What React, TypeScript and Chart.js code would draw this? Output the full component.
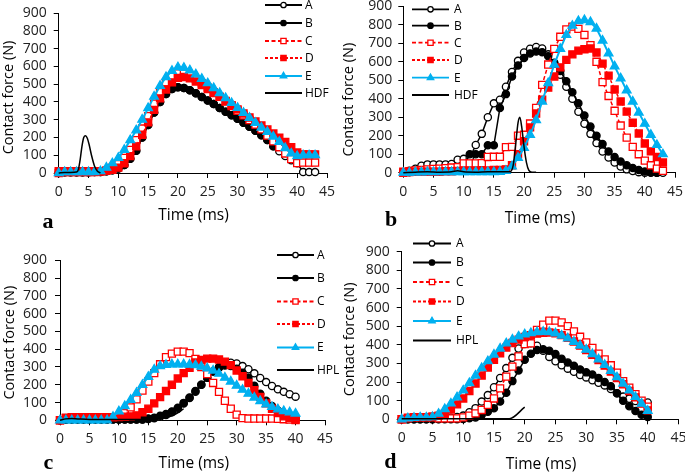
import React, { useEffect, useRef } from 'react';
import { Chart, registerables } from 'chart.js';
Chart.register(...registerables);

const BLACK = '#000000';
const RED = '#FF0000';
const CYAN = '#00B0F0';
const AXIS = '#000000';
const TICK_TEXT = '#222222';

const xTickValues = [0, 5, 10, 15, 20, 25, 30, 35, 40, 45];
const yTickValues = [0, 100, 200, 300, 400, 500, 600, 700, 800, 900];

const timeMs = [0, 1, 2, 3, 4, 5, 6, 7, 8, 9, 10, 11, 12, 13, 14, 15, 16, 17, 18, 19, 20, 21, 22, 23, 24, 25, 26, 27, 28, 29, 30, 31, 32, 33, 34, 35, 36, 37, 38, 39, 40, 41, 42, 43];

// Panel a
const aA = [0, 10, 8, 5, 5, 5, 5, 5, 10, 15, 25, 45, 80, 125, 200, 270, 340, 400, 445, 472, 482, 478, 465, 448, 428, 408, 388, 366, 345, 325, 305, 282, 260, 238, 212, 185, 150, 122, 95, 72, 55, 5, 5, 5];
const aB = [0, 3, 3, 3, 3, 3, 5, 5, 10, 15, 25, 45, 80, 125, 200, 270, 340, 400, 445, 472, 482, 478, 465, 448, 428, 408, 388, 366, 345, 325, 305, 282, 260, 238, 212, 185, 150];
const aC = [0, 5, 5, 5, 5, 5, 5, 8, 15, 30, 50, 85, 130, 185, 250, 320, 390, 455, 510, 545, 560, 560, 548, 528, 505, 480, 455, 428, 402, 376, 350, 324, 298, 272, 246, 210, 178, 145, 110, 78, 56, 58, 58, 58];
const aD = [10, 10, 10, 10, 10, 10, 10, 10, 12, 18, 30, 55, 95, 150, 215, 285, 355, 420, 470, 510, 535, 540, 532, 515, 495, 472, 450, 428, 405, 382, 358, 335, 312, 290, 268, 245, 222, 198, 175, 145, 115, 105, 105, 105];
const aE = [0, 5, 5, 5, 5, 5, 5, 10, 30, 55, 85, 130, 185, 240, 300, 365, 430, 490, 540, 575, 595, 592, 578, 555, 530, 505, 478, 450, 422, 394, 366, 338, 310, 282, 256, 232, 205, 175, 140, 110, 95, 100, 100, 100];
const aHT = [0, 1, 2, 3, 3.3, 3.6, 3.9, 4.2, 4.5, 4.8, 5.1, 5.5, 6.0, 6.5, 7.0];
const aHV = [0, 3, 3, 5, 20, 75, 150, 200, 210, 195, 160, 100, 40, 10, 0];

// Panel b
const bA = [0, 10, 22, 38, 45, 45, 45, 45, 47, 70, 75, 80, 150, 210, 300, 375, 395, 465, 545, 605, 650, 670, 680, 672, 640, 590, 530, 465, 400, 330, 265, 210, 160, 115, 82, 55, 33, 18, 9, 3, 0, 0, 0, 0];
const bB = [0, 2, 5, 8, 10, 12, 12, 15, 18, 25, 30, 100, 100, 100, 148, 148, 350, 425, 520, 580, 620, 645, 655, 652, 630, 595, 550, 495, 435, 375, 310, 250, 200, 155, 115, 85, 60, 40, 25, 14, 6, 2, 0];
const bC = [5, 8, 12, 15, 18, 20, 22, 25, 28, 30, 50, 50, 50, 52, 85, 86, 86, 138, 140, 200, 205, 266, 350, 475, 585, 670, 735, 775, 790, 778, 745, 690, 600, 490, 415, 335, 255, 190, 140, 100, 65, 40, 22, 10];
const bD = [0, 3, 5, 5, 5, 5, 5, 8, 8, 10, 10, 10, 10, 12, 12, 15, 15, 18, 40, 100, 170, 245, 320, 395, 460, 520, 570, 610, 640, 660, 668, 672, 650, 590, 525, 450, 385, 330, 270, 212, 158, 115, 85, 55];
const bE = [0, 0, 2, 2, 3, 3, 3, 3, 3, 3, 3, 3, 3, 3, 3, 3, 5, 10, 35, 80, 135, 205, 285, 385, 485, 585, 670, 745, 795, 820, 825, 815, 780, 715, 645, 575, 510, 445, 385, 325, 265, 205, 150, 100];
const bHT = [0, 2, 4, 6, 8, 9, 10, 12, 14, 16, 17.6, 18.2, 18.6, 19.0, 19.3, 19.6, 20.0, 20.4, 20.8, 21.3, 22];
const bHV = [0, 3, 5, 3, 5, 10, 5, 3, 5, 5, 5, 40, 150, 270, 300, 250, 140, 55, 12, 2, 3];

// Panel c
const cA = [0, 3, 5, 5, 5, 5, 5, 5, 5, 5, 5, 5, 5, 5, 5, 8, 12, 20, 30, 45, 65, 95, 125, 160, 200, 240, 275, 300, 318, 324, 320, 305, 287, 264, 238, 215, 193, 174, 160, 147, 133];
const cB = [0, 3, 5, 5, 5, 5, 5, 5, 5, 5, 5, 5, 5, 5, 5, 10, 15, 25, 35, 50, 70, 98, 128, 165, 200, 240, 275, 295, 308, 305, 290, 268, 240, 195, 150, 110, 80, 55, 35, 20, 10];
const cC = [0, 12, 15, 15, 15, 15, 15, 15, 15, 18, 22, 40, 73, 118, 167, 218, 265, 315, 355, 375, 386, 386, 378, 345, 300, 260, 210, 160, 110, 65, 32, 12, 10, 10, 10, 10, 10, 8, 6, 4, 2];
const cD = [0, 15, 18, 18, 18, 18, 18, 18, 18, 18, 18, 20, 22, 28, 45, 65, 95, 130, 165, 200, 235, 265, 295, 325, 340, 347, 347, 342, 330, 310, 280, 248, 210, 170, 132, 95, 65, 40, 22, 12, 5];
const cE = [0, 0, 0, 0, 0, 0, 0, 0, 0, 20, 50, 80, 115, 155, 200, 245, 285, 305, 312, 315, 315, 315, 313, 310, 302, 292, 280, 262, 240, 218, 195, 172, 150, 128, 108, 90, 75, 62, 52, 45, 38];
const cHT = [0, 1, 2, 3, 5, 8, 10, 12, 14, 16, 17, 18, 19, 20, 21];
const cHV = [0, 8, 10, 8, 5, 5, 5, 5, 5, 8, 10, 15, 25, 42, 65];

// Panel d
const dA = [0, 0, 0, 0, 0, 0, 2, 5, 8, 12, 20, 38, 60, 95, 130, 172, 222, 275, 330, 380, 405, 408, 395, 368, 335, 312, 290, 272, 255, 238, 225, 210, 196, 182, 163, 140, 122, 110, 98, 95, 90];
const dB = [0, 0, 0, 0, 0, 0, 0, 0, 0, 0, 2, 5, 10, 23, 40, 59, 95, 143, 205, 262, 320, 352, 372, 376, 368, 350, 325, 305, 287, 268, 252, 240, 222, 200, 178, 140, 100, 70, 45, 25, 12];
const dC = [0, 5, 10, 10, 10, 10, 5, 5, 5, 5, 10, 20, 32, 50, 78, 112, 166, 229, 283, 338, 404, 408, 480, 508, 530, 530, 520, 500, 472, 443, 413, 383, 353, 322, 290, 250, 205, 170, 135, 100, 68];
const dD = [0, 8, 12, 12, 12, 15, 20, 30, 52, 80, 112, 152, 192, 235, 278, 320, 355, 385, 410, 428, 442, 452, 460, 465, 466, 462, 452, 437, 418, 396, 372, 346, 318, 288, 256, 222, 188, 152, 118, 84, 48];
const dE = [0, 5, 8, 10, 10, 12, 30, 55, 85, 118, 155, 195, 235, 275, 312, 348, 380, 408, 428, 445, 456, 463, 468, 470, 468, 462, 450, 435, 416, 396, 374, 350, 322, 292, 260, 226, 192, 156, 120, 84, 45];
const dHT = [0, 5, 10, 15, 17.5, 20];
const dHV = [3, 3, 3, 3, 3, 65];

type PStyle = 'circle' | 'rect' | 'triangle' | null;
interface Style { color: string; dash: number[]; point: PStyle; fill: boolean; radius: number; width: number; }

const STYLES: Record<string, Style> = {
  A: { color: BLACK, dash: [], point: 'circle', fill: false, radius: 3.6, width: 1.5 },
  B: { color: BLACK, dash: [], point: 'circle', fill: true, radius: 3.6, width: 1.5 },
  C: { color: RED, dash: [4, 2.5], point: 'rect', fill: false, radius: 5, width: 1.5 },
  D: { color: RED, dash: [3, 2], point: 'rect', fill: true, radius: 5, width: 1.5 },
  E: { color: CYAN, dash: [], point: 'triangle', fill: true, radius: 5, width: 2 },
  H: { color: BLACK, dash: [], point: null, fill: false, radius: 0, width: 1.5 },
};

const ORDER: Record<string, number> = { A: 5, B: 4, C: 3, D: 2, E: 1, H: 0 };

interface Series { label: string; styleKey: string; xs: number[]; ys: number[]; }
interface PanelCfg {
  key: string; left: number; top: number; w: number; h: number;
  area: { l: number; r: number; t: number; b: number };
  yPad: number; xPad: number;
  series: Series[];
  legend: { x1: number; x2: number; tx: number; ys: number[] };
  yTitle: [number, number]; xTitle: [number, number];
  letter: { text: string; x: number; y: number };
}

const panels: PanelCfg[] = [
  {
    key: 'a', left: 0, top: 0, w: 342, h: 236,
    area: { l: 58.7, r: 327, t: 13, b: 173 }, yPad: 7, xPad: 6,
    series: [
      { label: 'A', styleKey: 'A', xs: timeMs, ys: aA },
      { label: 'B', styleKey: 'B', xs: timeMs, ys: aB },
      { label: 'C', styleKey: 'C', xs: timeMs, ys: aC },
      { label: 'D', styleKey: 'D', xs: timeMs, ys: aD },
      { label: 'E', styleKey: 'E', xs: timeMs, ys: aE },
      { label: 'HDF', styleKey: 'H', xs: aHT, ys: aHV },
    ],
    legend: { x1: 265, x2: 302, tx: 305, ys: [5, 23, 41, 58, 76, 93] },
    yTitle: [9.3, 97.5], xTitle: [193.5, 216], letter: { text: 'a', x: 48, y: 228 },
  },
  {
    key: 'b', left: 342, top: 0, w: 343, h: 236,
    area: { l: 61.3, r: 333, t: 6, b: 172.7 }, yPad: 6, xPad: 6,
    series: [
      { label: 'A', styleKey: 'A', xs: timeMs, ys: bA },
      { label: 'B', styleKey: 'B', xs: timeMs, ys: bB },
      { label: 'C', styleKey: 'C', xs: timeMs, ys: bC },
      { label: 'D', styleKey: 'D', xs: timeMs, ys: bD },
      { label: 'E', styleKey: 'E', xs: timeMs, ys: bE },
      { label: 'HDF', styleKey: 'H', xs: bHT, ys: bHV },
    ],
    legend: { x1: 412, x2: 449, tx: 454, ys: [9.3, 25.7, 42.7, 60, 77.7, 95] },
    yTitle: [349.3, 99.7], xTitle: [540, 218.3], letter: { text: 'b', x: 391, y: 226 },
  },
  {
    key: 'c', left: 0, top: 236, w: 342, h: 237,
    area: { l: 60, r: 325, t: 24.3, b: 184.3 }, yPad: 8, xPad: 5,
    series: [
      { label: 'A', styleKey: 'A', xs: timeMs, ys: cA },
      { label: 'B', styleKey: 'B', xs: timeMs, ys: cB },
      { label: 'C', styleKey: 'C', xs: timeMs, ys: cC },
      { label: 'D', styleKey: 'D', xs: timeMs, ys: cD },
      { label: 'E', styleKey: 'E', xs: timeMs, ys: cE },
      { label: 'HPL', styleKey: 'H', xs: cHT, ys: cHV },
    ],
    legend: { x1: 277, x2: 314, tx: 317, ys: [255, 278, 301.5, 324, 347.5, 370] },
    yTitle: [10, 342.7], xTitle: [193.8, 463.7], letter: { text: 'c', x: 48.3, y: 469 },
  },
  {
    key: 'd', left: 342, top: 236, w: 343, h: 237,
    area: { l: 59.7, r: 336.5, t: 15.7, b: 183.3 }, yPad: 7, xPad: 5,
    series: [
      { label: 'A', styleKey: 'A', xs: timeMs, ys: dA },
      { label: 'B', styleKey: 'B', xs: timeMs, ys: dB },
      { label: 'C', styleKey: 'C', xs: timeMs, ys: dC },
      { label: 'D', styleKey: 'D', xs: timeMs, ys: dD },
      { label: 'E', styleKey: 'E', xs: timeMs, ys: dE },
      { label: 'HPL', styleKey: 'H', xs: dHT, ys: dHV },
    ],
    legend: { x1: 413, x2: 451, tx: 456, ys: [243.5, 262.5, 282, 301.5, 321, 340.5] },
    yTitle: [350, 339.3], xTitle: [541, 464.3], letter: { text: 'd', x: 390.3, y: 468 },
  },
];

function drawMarker(ctx: CanvasRenderingContext2D, st: Style, x: number, y: number, scale: number) {
  if (!st.point) return;
  ctx.save();
  ctx.setLineDash([]);
  ctx.lineWidth = 1.3;
  ctx.strokeStyle = st.color;
  ctx.fillStyle = st.fill ? st.color : '#FFFFFF';
  ctx.beginPath();
  const r = st.radius * scale;
  if (st.point === 'circle') {
    ctx.arc(x, y, r, 0, Math.PI * 2);
  } else if (st.point === 'rect') {
    const s = r * Math.SQRT1_2;
    ctx.rect(x - s, y - s, 2 * s, 2 * s);
  } else {
    ctx.moveTo(x, y - r);
    ctx.lineTo(x + r * 0.866, y + r * 0.5);
    ctx.lineTo(x - r * 0.866, y + r * 0.5);
  }
  ctx.closePath();
  ctx.fill();
  ctx.stroke();
  ctx.restore();
}

function Panel({ cfg }: { cfg: PanelCfg }) {
  const ref = useRef<HTMLCanvasElement>(null);
  useEffect(() => {
    const canvas = ref.current;
    if (!canvas) return;
    const datasets = cfg.series.map((s) => {
      const st = STYLES[s.styleKey];
      const isH = s.styleKey === 'H';
      return {
        label: s.label,
        data: s.ys.map((y, i) => ({ x: s.xs[i], y })),
        borderColor: st.color,
        backgroundColor: st.color,
        borderWidth: st.width,
        borderDash: st.dash,
        pointStyle: st.point || 'circle',
        pointRadius: st.point ? st.radius : 0,
        pointHoverRadius: st.point ? st.radius : 0,
        pointBackgroundColor: st.fill ? st.color : '#FFFFFF',
        pointBorderColor: st.color,
        pointBorderWidth: 1.3,
        tension: isH ? 0.4 : 0,
        cubicInterpolationMode: isH ? 'monotone' : 'default',
        fill: false,
        clip: false,
        order: ORDER[s.styleKey],
      };
    });

    const overlay = {
      id: 'overlay' + cfg.key,
      afterDraw(chart: any) {
        const ctx: CanvasRenderingContext2D = chart.ctx;
        const ox = cfg.left;
        const oy = cfg.top;
        ctx.save();
        // legend
        cfg.series.forEach((s, i) => {
          const st = STYLES[s.styleKey];
          const y = cfg.legend.ys[i] - oy;
          ctx.save();
          ctx.strokeStyle = st.color;
          ctx.lineWidth = 1.8;
          ctx.setLineDash(st.dash);
          ctx.beginPath();
          ctx.moveTo(cfg.legend.x1 - ox, y);
          ctx.lineTo(cfg.legend.x2 - ox, y);
          ctx.stroke();
          ctx.restore();
          drawMarker(ctx, st, (cfg.legend.x1 + cfg.legend.x2) / 2 - ox, y, 0.75);
          ctx.fillStyle = '#000000';
          ctx.font = '12px "Open Sans"';
          ctx.textAlign = 'left';
          ctx.textBaseline = 'middle';
          ctx.fillText(s.label, cfg.legend.tx - ox, y + 0.5);
        });
        // y title
        ctx.save();
        ctx.translate(cfg.yTitle[0] - ox, cfg.yTitle[1] - oy);
        ctx.rotate(-Math.PI / 2);
        ctx.fillStyle = '#000000';
        ctx.font = '14.5px "Open Sans"';
        ctx.textAlign = 'center';
        ctx.textBaseline = 'middle';
        ctx.fillText('Contact force (N)', 0, 0);
        ctx.restore();
        // x title
        ctx.fillStyle = '#000000';
        ctx.font = '15.5px "Open Sans"';
        ctx.textAlign = 'center';
        ctx.textBaseline = 'middle';
        ctx.fillText('Time (ms)', cfg.xTitle[0] - ox, cfg.xTitle[1] - oy);
        // panel letter
        ctx.font = 'bold 22px "Liberation Serif"';
        ctx.textAlign = 'center';
        ctx.textBaseline = 'alphabetic';
        ctx.fillText(cfg.letter.text, cfg.letter.x - ox, cfg.letter.y - oy);
        ctx.restore();
      },
    };

    const zeroPad = (s: any) => {
      s.paddingLeft = 0; s.paddingRight = 0; s.paddingTop = 0; s.paddingBottom = 0;
    };

    const chart = new Chart(canvas, {
      type: 'line',
      data: { datasets: datasets as any },
      options: {
        animation: false,
        responsive: false,
        maintainAspectRatio: false,
        devicePixelRatio: 1,
        events: [],
        layout: { padding: { top: cfg.area.t, right: cfg.w - cfg.area.r, left: 0, bottom: 0 } },
        plugins: { legend: { display: false }, tooltip: { enabled: false }, title: { display: false } },
        scales: {
          x: {
            type: 'linear', min: 0, max: 45,
            afterBuildTicks: (s: any) => { s.ticks = xTickValues.map((v) => ({ value: v })); },
            afterFit: (s: any) => { s.height = cfg.h - cfg.area.b; zeroPad(s); },
            ticks: { font: { family: 'Open Sans', size: 14 }, color: TICK_TEXT, padding: cfg.xPad, maxRotation: 0, autoSkip: false },
            grid: { drawOnChartArea: false, drawTicks: true, tickLength: 5, color: AXIS, lineWidth: 1 },
            border: { display: true, color: AXIS, width: 1 },
          },
          y: {
            type: 'linear', min: 0, max: 900,
            afterBuildTicks: (s: any) => { s.ticks = yTickValues.map((v) => ({ value: v })); },
            afterFit: (s: any) => { s.width = cfg.area.l; zeroPad(s); },
            ticks: { font: { family: 'Open Sans', size: 14 }, color: TICK_TEXT, padding: cfg.yPad, autoSkip: false },
            grid: { drawOnChartArea: false, drawTicks: true, tickLength: 5, color: AXIS, lineWidth: 1 },
            border: { display: true, color: AXIS, width: 1 },
          },
        },
      } as any,
      plugins: [overlay],
    });
    return () => chart.destroy();
  }, [cfg]);
  return (
    <canvas
      ref={ref}
      width={cfg.w}
      height={cfg.h}
      style={{ position: 'absolute', left: cfg.left, top: cfg.top, width: cfg.w, height: cfg.h }}
    />
  );
}

export default function App() {
  return (
    <div style={{ position: 'fixed', left: 0, top: 0, width: 685, height: 473, background: '#FFFFFF', overflow: 'hidden' }}>
      {panels.map((p) => (
        <Panel key={p.key} cfg={p} />
      ))}
    </div>
  );
}
